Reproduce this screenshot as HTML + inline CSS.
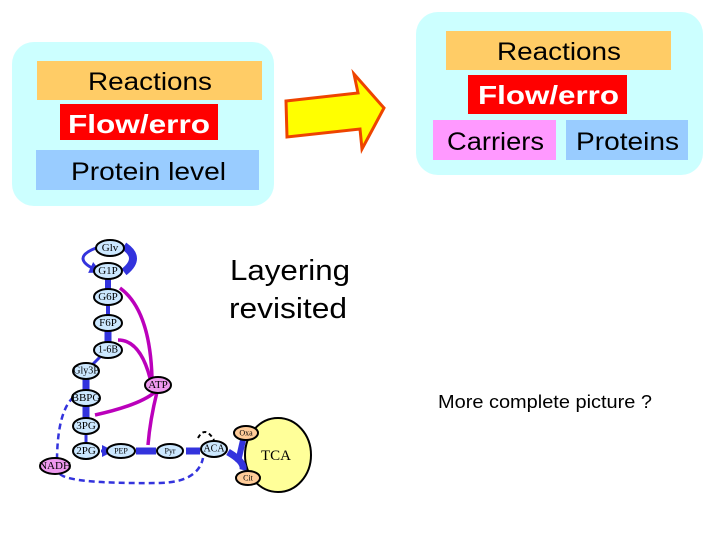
<!DOCTYPE html>
<html><head><meta charset="utf-8"><style>
html,body{margin:0;padding:0;background:#fff;width:720px;height:540px;overflow:hidden}
svg{display:block}
.n{font-family:"Liberation Serif",serif;font-size:11px;text-anchor:middle;dominant-baseline:central;fill:#000}
.t{font-family:"Liberation Sans",sans-serif;font-size:25px}
.b{font-family:"Liberation Sans",sans-serif;font-size:26px;font-weight:bold;fill:#fff}
</style></head><body>
<svg width="720" height="540" viewBox="0 0 720 540" xmlns="http://www.w3.org/2000/svg">
<defs>
<marker id="ab" markerWidth="4" markerHeight="4" refX="2" refY="2" orient="auto"><path d="M0,0L4,2L0,4z" fill="#3333dd"/></marker>
</defs>
<rect x="12" y="42" width="262" height="164" rx="22" fill="#ccffff"/>
<rect x="37" y="61" width="225" height="39" fill="#ffcc66"/>
<text x="88" y="90" class="t" textLength="124" lengthAdjust="spacingAndGlyphs">Reactions</text>
<rect x="60" y="104" width="158" height="36" fill="#ff0000"/>
<text x="68" y="133" class="b" textLength="142" lengthAdjust="spacingAndGlyphs">Flow/erro</text>
<rect x="36" y="150" width="223" height="40" fill="#99ccff"/>
<text x="71" y="180" class="t" textLength="155" lengthAdjust="spacingAndGlyphs">Protein level</text>
<path d="M286,101 L358,93 L354,74 L384,108 L362,149 L360,129 L287,137 Z" fill="#ffff00" stroke="#ee4400" stroke-width="3"/>
<rect x="416" y="12" width="287" height="163" rx="22" fill="#ccffff"/>
<rect x="446" y="31" width="225" height="39" fill="#ffcc66"/>
<text x="497" y="60" class="t" textLength="124" lengthAdjust="spacingAndGlyphs">Reactions</text>
<rect x="468" y="75" width="159" height="39" fill="#ff0000"/>
<text x="478" y="104" class="b" textLength="141" lengthAdjust="spacingAndGlyphs">Flow/erro</text>
<rect x="433" y="120" width="123" height="40" fill="#ff99ff"/>
<text x="447" y="150" class="t" textLength="97" lengthAdjust="spacingAndGlyphs">Carriers</text>
<rect x="566" y="120" width="122" height="40" fill="#99ccff"/>
<text x="576" y="150" class="t" textLength="103" lengthAdjust="spacingAndGlyphs">Proteins</text>
<text x="230" y="280" class="t" style="font-size:29px" textLength="120" lengthAdjust="spacingAndGlyphs">Layering</text>
<text x="229" y="318" class="t" style="font-size:29px" textLength="118" lengthAdjust="spacingAndGlyphs">revisited</text>
<text x="438" y="408" font-family="Liberation Sans,sans-serif" font-size="18" textLength="214" lengthAdjust="spacingAndGlyphs">More complete picture ?</text>
<ellipse cx="278" cy="455" rx="33" ry="37" fill="#ffff99" stroke="#000" stroke-width="2"/>
<text x="276" y="456" class="n" style="font-size:15px">TCA</text>
<g stroke="#3333dd" fill="none">
<path d="M96,248 Q70,258 96,270" stroke-width="3" marker-end="url(#ab)"/>
<path d="M124,246 Q142,258 124,272" stroke-width="8"/>
<path d="M108,278 L108,290" stroke-width="6"/>
<path d="M108,305 L108,316" stroke-width="4"/>
<path d="M108,331 L108,343" stroke-width="7"/>
<path d="M100,357 L92,365" stroke-width="3"/>
<path d="M86,379 L86,391" stroke-width="7"/>
<path d="M86,406 L86,419" stroke-width="7"/>
<path d="M86,434 L86,444" stroke-width="3"/>
<path d="M101,451 L108,451" stroke-width="3" marker-end="url(#ab)"/>
<path d="M136,451 L156,451" stroke-width="7"/>
<path d="M186,451 L200,451" stroke-width="7"/>
<path d="M228,452 Q245,462 243,470" stroke-width="7"/>
<path d="M243,440 L238,462" stroke-width="6"/>
<path d="M82,392 Q58,400 57,458" stroke-width="2.5" stroke-dasharray="6,4"/>
<path d="M60,474 Q70,484 160,483 Q198,482 203,458" stroke-width="2.5" stroke-dasharray="6,4"/>
</g>
<path d="M198,438 Q205,425 214,440" stroke="#000" stroke-width="2" fill="none" stroke-dasharray="4,3"/>
<g stroke="#bb00bb" fill="none" stroke-width="3.5">
<path d="M152,378 Q150,310 120,288"/>
<path d="M150,378 Q140,340 118,340"/>
<path d="M95,415 Q140,405 155,392"/>
<path d="M148,445 Q150,420 157,392"/>
</g>
<g stroke="#000" stroke-width="2">
<ellipse cx="110" cy="248" rx="14" ry="8" fill="#cce8ff"/>
<ellipse cx="108" cy="271" rx="14" ry="8" fill="#cce8ff"/>
<ellipse cx="108" cy="297" rx="14" ry="8" fill="#cce8ff"/>
<ellipse cx="108" cy="323" rx="14" ry="8" fill="#cce8ff"/>
<ellipse cx="108" cy="350" rx="14" ry="8" fill="#cce8ff"/>
<ellipse cx="86" cy="371" rx="13" ry="8" fill="#cce8ff"/>
<ellipse cx="158" cy="385" rx="13" ry="8" fill="#ee99ee"/>
<ellipse cx="86" cy="398" rx="14" ry="8" fill="#cce8ff"/>
<ellipse cx="86" cy="426" rx="13" ry="8" fill="#cce8ff"/>
<ellipse cx="86" cy="451" rx="13" ry="8" fill="#cce8ff"/>
<ellipse cx="121" cy="451" rx="14" ry="7" fill="#cce8ff"/>
<ellipse cx="170" cy="451" rx="13" ry="7" fill="#cce8ff"/>
<ellipse cx="214" cy="449" rx="13" ry="8" fill="#cce8ff"/>
<ellipse cx="55" cy="466" rx="15" ry="8" fill="#ee99ee"/>
<ellipse cx="246" cy="433" rx="12" ry="7" fill="#ffcc99"/>
<ellipse cx="248" cy="478" rx="12" ry="7" fill="#ffcc99"/>
</g>
<text x="110" y="248" class="n">Glv</text>
<text x="108" y="271" class="n">G1P</text>
<text x="108" y="297" class="n">G6P</text>
<text x="108" y="323" class="n">F6P</text>
<text x="108" y="350" class="n" style="font-size:10px">1-6B</text>
<text x="86" y="371" class="n" style="font-size:10px">Gly3P</text>
<text x="158" y="385" class="n">ATP</text>
<text x="86" y="398" class="n">BBPG</text>
<text x="86" y="426" class="n">3PG</text>
<text x="86" y="451" class="n">2PG</text>
<text x="121" y="451" class="n" style="font-size:8px">PEP</text>
<text x="170" y="451" class="n" style="font-size:8px">Pyr</text>
<text x="214" y="449" class="n" style="font-size:10px">ACA</text>
<text x="55" y="466" class="n">NADH</text>
<text x="246" y="433" class="n" style="font-size:8px">Oxa</text>
<text x="248" y="478" class="n" style="font-size:8px">Cit</text>
</svg>
</body></html>
